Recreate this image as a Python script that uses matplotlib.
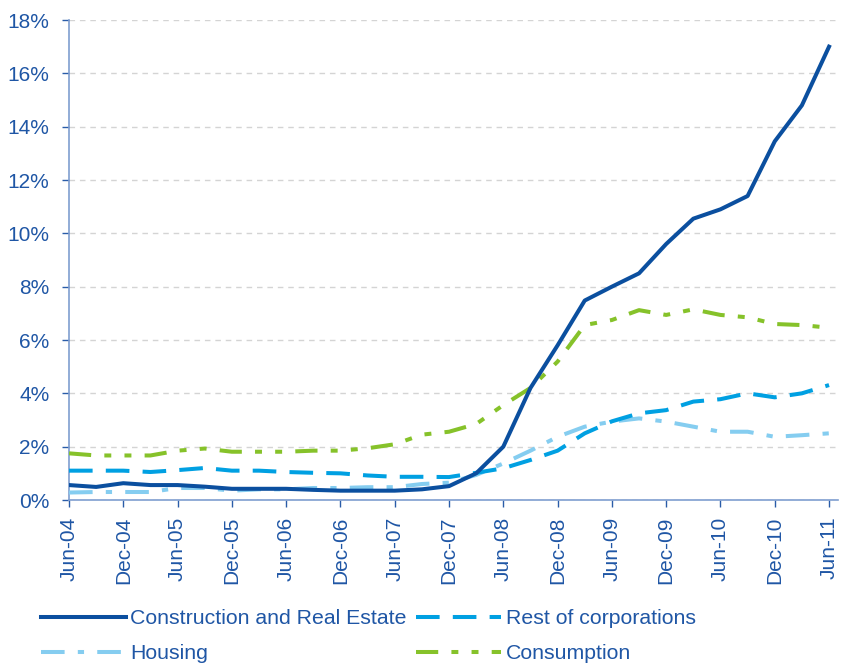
import matplotlib
matplotlib.use("Agg")
from matplotlib import pyplot as plt

# quarterly ratios, Jun-04 .. Jun-11
quarters = ["Jun-04", "Sep-04", "Dec-04", "Mar-05", "Jun-05", "Sep-05", "Dec-05", "Mar-06",
            "Jun-06", "Sep-06", "Dec-06", "Mar-07", "Jun-07", "Sep-07", "Dec-07", "Mar-08",
            "Jun-08", "Sep-08", "Dec-08", "Mar-09", "Jun-09", "Sep-09", "Dec-09", "Mar-10",
            "Jun-10", "Sep-10", "Dec-10", "Mar-11", "Jun-11"]

construction = [0.56, 0.49, 0.63, 0.56, 0.56, 0.50, 0.42, 0.42, 0.42, 0.38, 0.35, 0.35, 0.35, 0.40,
                0.52, 1.00, 2.00, 4.20, 5.80, 7.48, 8.00, 8.50, 9.60, 10.55, 10.90, 11.40, 13.45,
                14.80, 17.00]
rest_corp = [1.10, 1.10, 1.10, 1.05, 1.12, 1.20, 1.10, 1.10, 1.05, 1.02, 1.00, 0.92, 0.87, 0.87,
             0.86, 1.02, 1.19, 1.50, 1.85, 2.50, 2.95, 3.25, 3.37, 3.69, 3.78, 4.00, 3.85, 4.00, 4.31]
housing = [0.28, 0.30, 0.30, 0.30, 0.45, 0.45, 0.35, 0.40, 0.40, 0.45, 0.45, 0.48, 0.48, 0.60,
           0.65, 0.94, 1.37, 1.85, 2.37, 2.75, 2.94, 3.06, 2.94, 2.75, 2.56, 2.56, 2.37, 2.43, 2.50]
consumption = [1.75, 1.67, 1.67, 1.67, 1.85, 1.93, 1.81, 1.81, 1.81, 1.85, 1.85, 1.94, 2.09, 2.45,
               2.56, 2.85, 3.56, 4.20, 5.19, 6.56, 6.75, 7.12, 6.94, 7.15, 6.94, 6.85, 6.60, 6.56, 6.46]

labels = ["Construction and Real Estate", "Rest of corporations", "Housing", "Consumption"]

txt_col = "#1f56a5"
plt.rcParams["font.family"] = ["Liberation Sans", "DejaVu Sans"]

fig = plt.figure(figsize=(8.41, 6.63), dpi=100)
ax = fig.add_axes([69 / 841, 163 / 663, (838 - 69) / 841, 480 / 663])

x = list(range(len(quarters)))
lw = 2.9
# dash patterns given in points, scaled by the line width
def pat(*pts):
    return tuple(p / lw for p in pts)

l1, = ax.plot(x, construction, color="#0b4f9f", lw=lw, label=labels[0], zorder=5)
l2, = ax.plot(x, rest_corp, color="#00a0e2", lw=lw, label=labels[1], dashes=pat(17, 9.5), dash_capstyle="butt", zorder=4)
l3, = ax.plot(x, housing, color="#85cdf0", lw=lw, label=labels[2], dashes=pat(17, 9.5, 4.5, 9.5), dash_capstyle="butt", zorder=3)
l4, = ax.plot(x, consumption, color="#86c22a", lw=lw, label=labels[3], dashes=pat(16, 9.5, 5, 9.5, 5, 9.5), dash_capstyle="butt", zorder=3)

ax.set_xlim(0, 28.33)
ax.set_ylim(0, 18)
ax.set_yticks(range(0, 19, 2))
ax.set_yticklabels(["%d%%" % v for v in range(0, 19, 2)])
ax.set_xticks(x[::2])
ax.set_xticklabels(quarters[::2], rotation=90)

ax.grid(axis="y", color="#d4d4d4", lw=1, dashes=(4, 3.5))
ax.set_axisbelow(True)
for s in ("top", "right"):
    ax.spines[s].set_visible(False)
for s in ("left", "bottom"):
    ax.spines[s].set_color("#7f9ed0")
    ax.spines[s].set_linewidth(1.2)
ax.tick_params(axis="both", colors="#2a5ca8", labelcolor=txt_col, labelsize=15, length=5, width=1)
ax.tick_params(axis="y", pad=9)
ax.tick_params(axis="x", pad=7)

# legend fills by column, so order handles to read row by row
leg = fig.legend([l1, l3, l2, l4], [labels[0], labels[2], labels[1], labels[3]],
                 loc="upper left", bbox_to_anchor=(41 / 841, 1 - 609 / 663), ncol=2, frameon=False,
                 prop={"family": "Liberation Sans", "size": 15.3}, handlelength=4.0,
                 handletextpad=0.2, columnspacing=0.45, labelspacing=0.75,
                 borderpad=0, borderaxespad=0)
for t in leg.get_texts():
    t.set_color(txt_col)

fig.savefig("out.png", dpi=100)
